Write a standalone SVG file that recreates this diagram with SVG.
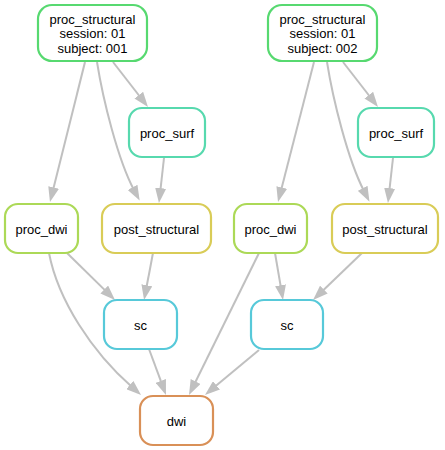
<svg xmlns="http://www.w3.org/2000/svg" width="445" height="450" viewBox="0 0 445 450">
<defs>
<marker id="ah" markerUnits="userSpaceOnUse" markerWidth="15" markerHeight="11" viewBox="0 0 15 11" refX="3" refY="5.5" orient="auto">
<path d="M0,0 L15,5.5 L0,11 z" fill="#c0c0c0"/>
</marker>
<style>
.e{fill:none;stroke:#c0c0c0;stroke-width:2;marker-end:url(#ah)}
.n{fill:#fff;stroke-width:2.2}
.t{font-family:"Liberation Sans",Arial,sans-serif;font-size:13px;fill:#000;text-anchor:middle}
.ps{stroke:#57d970}.su{stroke:#57d9ae}.pd{stroke:#acd957}.po{stroke:#d9cc57}.sc{stroke:#57c9d9}.dw{stroke:#d99057}
</style>
</defs>
<rect width="445" height="450" fill="#fff"/>
<g id="edges">
<path class="e" d="M85,62 L52.9,190.4"/>
<path class="e" d="M97,62 C103,100 118,160 134,190"/>
<path class="e" d="M113,62 L140.6,97.5"/>
<path class="e" d="M164,158 L160.3,191.1"/>
<path class="e" d="M67,253 L106.4,291.6"/>
<path class="e" d="M153,253 L146.3,288.2"/>
<path class="e" d="M49,253 C58,300 92,352 132,387"/>
<path class="e" d="M149,349 L161.8,383.7"/>
<path class="e" d="M314,62 L281,190.4"/>
<path class="e" d="M327,62 C333,100 348,160 364,191"/>
<path class="e" d="M343,62 L370.6,97.5"/>
<path class="e" d="M393,158 L389.3,191.1"/>
<path class="e" d="M259,253 L194.3,384.2"/>
<path class="e" d="M275,253 L281,288.2"/>
<path class="e" d="M362,253 L321.7,291.7"/>
<path class="e" d="M259,350 L214.2,387.3"/>
</g>
<g id="proc_structural_001">
<rect class="n ps" x="38" y="5" width="109" height="56" rx="14"/>
<text class="t" x="92.5" y="23.5">proc_structural</text>
<text class="t" x="92.5" y="38">session: 01</text>
<text class="t" x="92.5" y="52.5">subject: 001</text>
</g>
<g id="proc_structural_002">
<rect class="n ps" x="268" y="5" width="109" height="56" rx="14"/>
<text class="t" x="322.5" y="23.5">proc_structural</text>
<text class="t" x="322.5" y="38">session: 01</text>
<text class="t" x="322.5" y="52.5">subject: 002</text>
</g>
<g id="proc_surf_1">
<rect class="n su" x="129" y="108" width="76" height="49" rx="13"/>
<text class="t" x="167" y="137.5">proc_surf</text>
</g>
<g id="proc_surf_2">
<rect class="n su" x="358" y="108" width="76" height="49" rx="13"/>
<text class="t" x="396" y="137.5">proc_surf</text>
</g>
<g id="proc_dwi_1">
<rect class="n pd" x="5" y="204" width="73" height="49" rx="13"/>
<text class="t" x="41.5" y="233.5">proc_dwi</text>
</g>
<g id="post_structural_1">
<rect class="n po" x="102" y="204" width="109" height="49" rx="13"/>
<text class="t" x="156.5" y="233.5">post_structural</text>
</g>
<g id="proc_dwi_2">
<rect class="n pd" x="234" y="204" width="73" height="49" rx="13"/>
<text class="t" x="270.5" y="233.5">proc_dwi</text>
</g>
<g id="post_structural_2">
<rect class="n po" x="332" y="204" width="106" height="49" rx="13"/>
<text class="t" x="385" y="233.5">post_structural</text>
</g>
<g id="sc_1">
<rect class="n sc" x="104" y="300" width="73" height="49" rx="13"/>
<text class="t" x="140.5" y="329.5">sc</text>
</g>
<g id="sc_2">
<rect class="n sc" x="251" y="300" width="72" height="49" rx="13"/>
<text class="t" x="287" y="329.5">sc</text>
</g>
<g id="dwi">
<rect class="n dw" x="140" y="396" width="73" height="49" rx="13"/>
<text class="t" x="176.5" y="425.5">dwi</text>
</g>
</svg>
